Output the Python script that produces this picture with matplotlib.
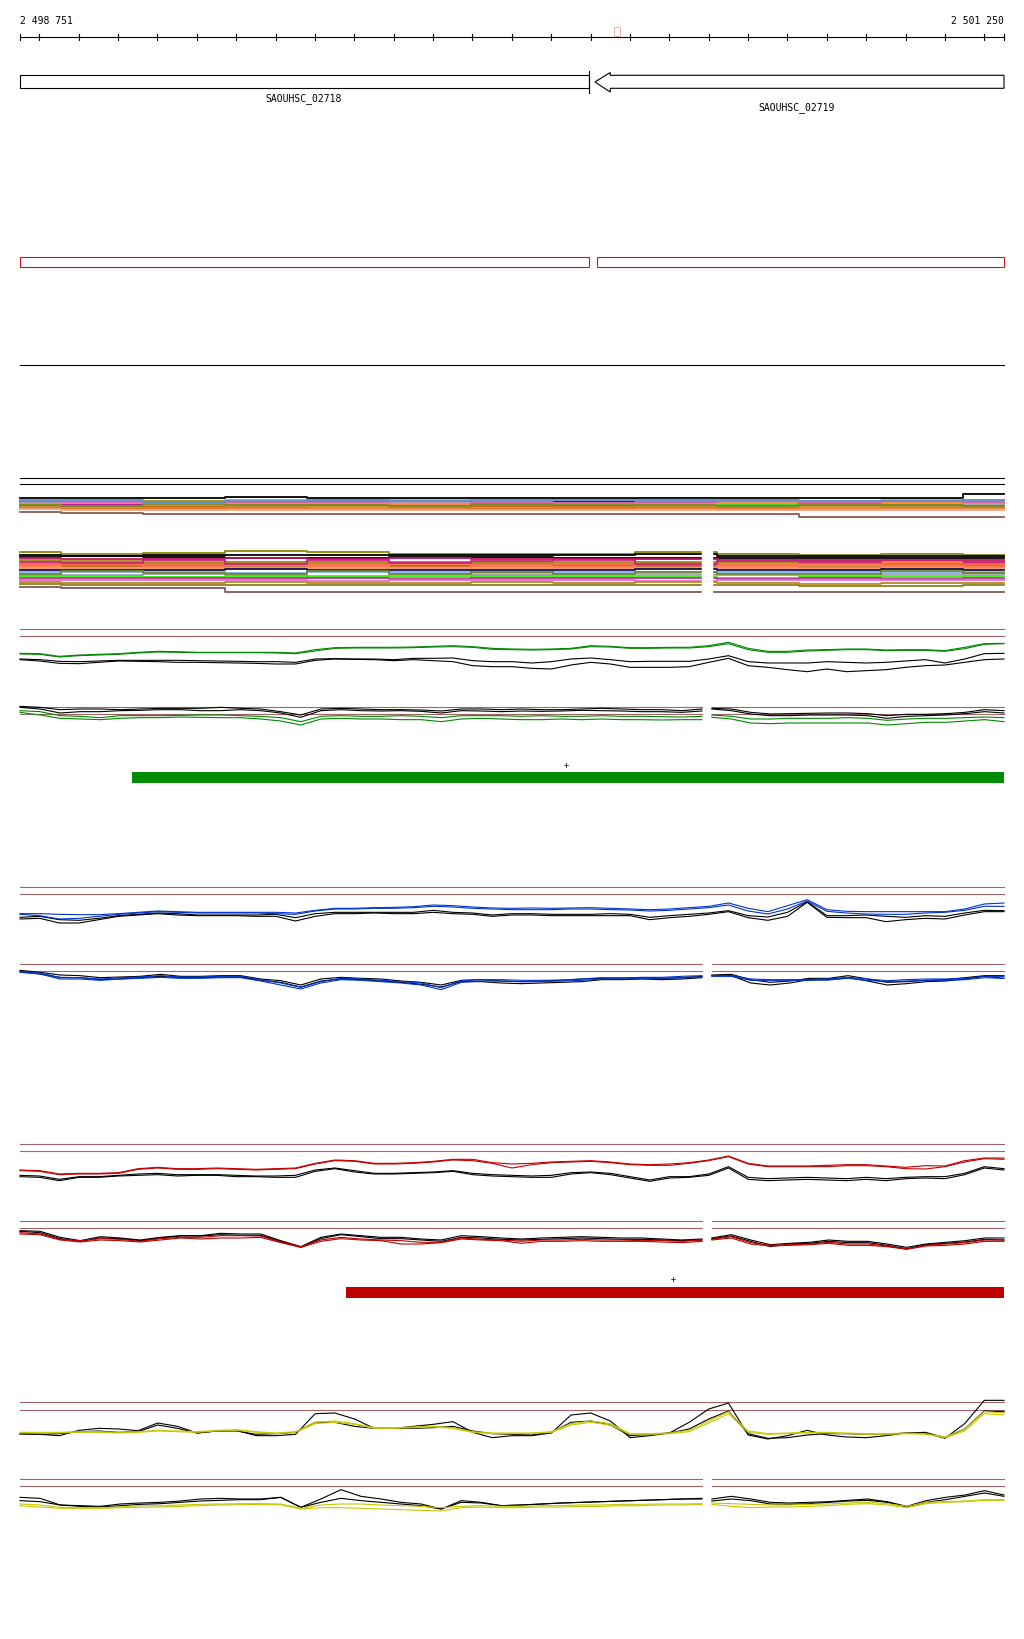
import numpy as np
import matplotlib
matplotlib.use("Agg")
import matplotlib.pyplot as plt
from matplotlib.patches import Rectangle, Polygon

W, H = 1024, 1640
START, END = 2498751, 2501250
PX_PER_BP = 984 / (END - START)
X0 = START - 20 / PX_PER_BP
X1 = END + 20 / PX_PER_BP

# sample positions of the graph tracks
POS = np.linspace(START, END, 51)
LEFT_END, RIGHT_START = 2500483, 2500508
LEFT_POS = np.linspace(START, LEFT_END, 35)
RIGHT_POS = np.linspace(RIGHT_START, END, 16)
DENSE_POS = np.linspace(START, END, 13)

# genes / features
GENES = ["SAOUHSC_02718", "SAOUHSC_02719"]
GENE_LEFT = (2498751, 2500196)
GENE_RIGHT = (2500211, 2500250, 2501250)   # tip, head base, end
CDS_BOXES = [(2498751, 2500196), (2500216, 2501250)]
GREEN_BAR = (2499035, 2501250)
RED_BAR = (2499579, 2501250)
TICKS = np.arange(2498800, 2501201, 100)

# --- green track (full) ---
GREEN_FULL_THR = [149, 128]
GREEN_FULL_G1 = [77, 76, 68, 72, 74, 76, 80, 83, 82, 80, 80, 80, 80, 80, 78, 88, 94, 95, 95, 95, 96, 98, 100, 97, 92,
                 90, 89, 90, 92, 100, 98, 94, 94, 95, 95, 100, 110, 92, 83, 83, 87, 88, 90, 90, 87, 88, 88, 85, 95, 106, 107]
GREEN_FULL_G2 = [75, 74, 66, 70, 72, 74, 78, 81, 80, 79, 79, 79, 79, 78, 76, 84, 92, 93, 93, 93, 94, 96, 97, 95, 89,
                 88, 87, 88, 90, 97, 96, 92, 92, 93, 93, 97, 106, 88, 80, 80, 84, 86, 88, 88, 85, 86, 86, 83, 91, 104, 106]
GREEN_FULL_K1 = [60, 58, 53, 52, 54, 56, 56, 56, 56, 55, 54, 53, 52, 52, 50, 60, 61, 60, 60, 58, 62, 62, 63, 55, 52,
                 52, 48, 52, 60, 63, 58, 52, 53, 53, 53, 60, 70, 52, 48, 48, 48, 52, 50, 48, 50, 54, 58, 48, 60, 76, 77]
GREEN_FULL_K2 = [58, 54, 47, 46, 50, 54, 53, 52, 50, 50, 49, 48, 47, 45, 45, 56, 60, 59, 58, 55, 58, 55, 52, 40, 37,
                 37, 32, 30, 42, 50, 45, 35, 35, 35, 37, 50, 62, 40, 35, 28, 22, 30, 22, 25, 28, 35, 40, 42, 50, 58, 60]

# --- green track (split) ---
GREEN_SPLIT_THR = [65, 44]
GREEN_SPLIT_K1_L = [68, 65, 58, 60, 60, 58, 60, 62, 62, 62, 65, 62, 60, 52, 42, 60, 62, 60, 58, 58, 57, 54, 60, 60, 58,
                    60, 58, 58, 60, 62, 60, 58, 58, 55, 60]
GREEN_SPLIT_K2_L = [65, 60, 48, 52, 52, 55, 56, 58, 58, 55, 55, 58, 55, 48, 35, 55, 58, 55, 54, 55, 53, 48, 55, 54, 52,
                    54, 53, 54, 56, 55, 54, 52, 52, 50, 54]
GREEN_SPLIT_G1_L = [55, 52, 40, 38, 34, 40, 40, 40, 41, 42, 42, 40, 38, 34, 22, 38, 40, 38, 38, 40, 38, 34, 40, 40, 40,
                    38, 40, 38, 38, 40, 38, 38, 37, 36, 38]
GREEN_SPLIT_G2_L = [50, 42, 32, 30, 28, 32, 34, 34, 36, 35, 34, 34, 30, 24, 12, 30, 32, 30, 30, 28, 28, 22, 30, 32, 30,
                    28, 28, 30, 28, 30, 28, 28, 27, 28, 28]
GREEN_SPLIT_K1_R = [62, 60, 50, 45, 46, 47, 48, 48, 46, 40, 44, 44, 46, 50, 58, 55]
GREEN_SPLIT_K2_R = [60, 55, 45, 40, 40, 42, 42, 42, 40, 32, 38, 40, 42, 46, 52, 48]
GREEN_SPLIT_G1_R = [42, 38, 30, 30, 32, 32, 32, 34, 32, 26, 30, 32, 32, 34, 36, 34]
GREEN_SPLIT_G2_R = [35, 30, 18, 16, 18, 18, 18, 18, 18, 12, 16, 20, 20, 24, 28, 22]

# --- blue track (full) ---
BLUE_FULL_THR = [125, 104]
BLUE_FULL_B1 = [46, 46, 44, 43, 43, 46, 50, 54, 52, 50, 50, 50, 50, 50, 48, 56, 62, 62, 64, 65, 67, 72, 70, 66, 63,
                62, 63, 62, 63, 64, 62, 60, 58, 60, 64, 68, 78, 62, 52, 70, 88, 58, 53, 52, 52, 52, 52, 52, 60, 75, 78]
BLUE_FULL_B2 = [44, 40, 30, 32, 38, 44, 48, 52, 50, 48, 48, 48, 48, 46, 44, 54, 60, 60, 62, 62, 64, 68, 66, 62, 60,
                58, 58, 58, 60, 60, 58, 57, 54, 56, 60, 64, 72, 54, 45, 60, 84, 53, 48, 45, 44, 44, 48, 50, 56, 68, 68]
BLUE_FULL_K1 = [35, 38, 28, 26, 32, 40, 44, 48, 46, 42, 42, 42, 42, 44, 34, 46, 50, 50, 50, 50, 50, 56, 50, 48, 42,
                46, 46, 44, 44, 44, 46, 44, 35, 40, 44, 48, 55, 40, 36, 50, 82, 40, 40, 42, 38, 35, 40, 38, 48, 56, 55]
BLUE_FULL_K2 = [30, 32, 18, 18, 28, 38, 42, 46, 42, 40, 40, 40, 38, 38, 24, 38, 46, 46, 48, 46, 46, 50, 46, 44, 38,
                42, 42, 40, 40, 40, 40, 40, 28, 34, 38, 44, 52, 34, 26, 38, 80, 35, 34, 34, 22, 28, 32, 30, 42, 52, 52]

# --- blue track (split) ---
BLUE_SPLIT_THR = [104, 83]
BLUE_SPLIT_B1_L = [82, 78, 64, 64, 60, 64, 66, 70, 66, 66, 68, 68, 58, 48, 35, 52, 62, 60, 56, 52, 48, 34, 55, 58, 58,
                   56, 56, 57, 60, 64, 63, 65, 65, 68, 70]
BLUE_SPLIT_B2_L = [80, 75, 60, 60, 56, 60, 62, 65, 62, 62, 64, 64, 54, 42, 30, 48, 58, 56, 52, 48, 42, 28, 50, 54, 54,
                   52, 52, 54, 56, 60, 60, 62, 62, 64, 66]
BLUE_SPLIT_K1_L = [86, 80, 72, 70, 64, 66, 68, 74, 68, 68, 70, 70, 60, 55, 42, 60, 65, 62, 60, 54, 50, 42, 56, 58, 54,
                   52, 54, 56, 60, 62, 63, 64, 62, 64, 68]
BLUE_SPLIT_K2_L = [82, 75, 65, 64, 58, 60, 64, 68, 64, 64, 66, 66, 56, 50, 36, 54, 60, 58, 54, 50, 44, 36, 52, 52, 48,
                   46, 48, 50, 52, 58, 58, 60, 58, 60, 64]
BLUE_SPLIT_B1_R = [70, 70, 60, 58, 58, 58, 60, 65, 60, 55, 58, 60, 60, 62, 68, 68]
BLUE_SPLIT_B2_R = [68, 68, 56, 56, 56, 56, 57, 62, 56, 52, 54, 56, 56, 58, 64, 62]
BLUE_SPLIT_K1_R = [72, 74, 58, 50, 54, 62, 62, 70, 60, 50, 52, 56, 58, 64, 70, 70]
BLUE_SPLIT_K2_R = [70, 70, 48, 42, 48, 58, 58, 64, 54, 42, 46, 52, 54, 60, 68, 62]

# --- red track (full) ---
RED_FULL_THR = [134, 113]
RED_FULL_R1 = [57, 55, 45, 47, 47, 49, 61, 65, 61, 61, 63, 61, 59, 61, 63, 77, 87, 85, 77, 77, 79, 83, 89, 89, 79,
               75, 77, 81, 83, 85, 81, 75, 73, 75, 79, 87, 99, 77, 69, 69, 69, 71, 73, 73, 69, 65, 70, 69, 85, 93, 93]
RED_FULL_R2 = [55, 53, 43, 45, 45, 47, 59, 63, 59, 59, 61, 59, 57, 59, 61, 75, 85, 83, 75, 75, 77, 81, 87, 85, 77,
               63, 73, 79, 81, 83, 79, 73, 71, 71, 77, 85, 97, 75, 67, 67, 67, 67, 70, 70, 67, 61, 60, 67, 81, 91, 89]
RED_FULL_K1 = [41, 39, 29, 37, 37, 41, 45, 47, 43, 43, 43, 41, 39, 39, 41, 57, 63, 55, 47, 47, 49, 51, 55, 47, 43,
               41, 39, 41, 49, 51, 47, 37, 27, 37, 37, 45, 67, 35, 31, 33, 35, 33, 31, 35, 31, 35, 37, 37, 47, 67, 61]
RED_FULL_K2 = [37, 35, 25, 35, 35, 39, 41, 43, 39, 41, 41, 37, 37, 35, 35, 53, 61, 51, 45, 45, 47, 49, 53, 43, 39,
               37, 35, 35, 45, 49, 43, 33, 23, 33, 35, 41, 63, 29, 25, 27, 29, 27, 25, 29, 25, 31, 33, 31, 43, 63, 57]

# --- red track (split) ---
RED_SPLIT_THR = [113, 92]
RED_SPLIT_K1_L = [85, 83, 65, 55, 67, 63, 57, 65, 70, 70, 77, 75, 75, 55, 37, 65, 75, 70, 65, 65, 60, 57, 70, 67, 63,
                  60, 63, 65, 67, 65, 63, 63, 60, 57, 60]
RED_SPLIT_K2_L = [83, 79, 61, 53, 63, 61, 55, 63, 69, 69, 73, 71, 71, 53, 35, 61, 73, 67, 61, 61, 57, 53, 65, 63, 59,
                  57, 59, 61, 63, 61, 59, 59, 57, 55, 57]
RED_SPLIT_R1_L = [79, 75, 59, 55, 61, 59, 53, 61, 65, 65, 70, 70, 69, 51, 37, 57, 65, 60, 57, 55, 50, 50, 63, 59, 57,
                  53, 57, 57, 59, 57, 57, 55, 55, 53, 57]
RED_SPLIT_R2_L = [75, 73, 57, 51, 57, 55, 51, 57, 63, 60, 63, 63, 65, 49, 35, 53, 61, 57, 55, 45, 45, 49, 60, 57, 55,
                  47, 53, 53, 55, 53, 53, 53, 51, 49, 53]
RED_SPLIT_K1_R = [63, 73, 57, 43, 47, 50, 57, 53, 53, 45, 35, 45, 50, 55, 63, 63]
RED_SPLIT_K2_R = [61, 69, 53, 37, 45, 47, 53, 49, 49, 41, 31, 43, 47, 51, 59, 57]
RED_SPLIT_R1_R = [59, 67, 49, 41, 43, 45, 50, 45, 45, 39, 30, 41, 45, 49, 57, 57]
RED_SPLIT_R2_R = [57, 63, 45, 39, 41, 43, 47, 41, 41, 37, 29, 39, 41, 45, 53, 53]

# --- yellow track (full) ---
YELLOW_FULL_THR = [125, 103]
YELLOW_FULL_K1 = [30, 29, 25, 41, 47, 45, 40, 63, 53, 33, 39, 41, 25, 25, 29, 91, 93, 75, 47, 47, 53, 59, 67, 35, 19,
                  25, 25, 33, 87, 93, 69, 19, 25, 33, 65, 105, 123, 27, 15, 25, 41, 27, 21, 19, 25, 33, 33, 17, 61, 131, 131]
YELLOW_FULL_K2 = [31, 29, 31, 37, 39, 35, 37, 57, 47, 33, 39, 39, 29, 31, 35, 65, 65, 53, 47, 47, 47, 49, 53, 39, 31,
                  29, 27, 35, 65, 69, 57, 25, 29, 33, 45, 75, 99, 31, 17, 19, 27, 31, 31, 29, 29, 33, 35, 19, 45, 99, 97]
YELLOW_FULL_Y1 = [35, 35, 35, 37, 37, 35, 37, 41, 39, 37, 41, 43, 37, 33, 37, 65, 69, 61, 49, 49, 51, 53, 49, 37, 33,
                  33, 33, 37, 61, 69, 61, 31, 31, 33, 41, 69, 97, 39, 31, 33, 35, 35, 33, 31, 31, 33, 31, 21, 45, 97, 93]
YELLOW_FULL_Y2 = [33, 33, 33, 35, 35, 33, 35, 39, 37, 35, 39, 41, 35, 31, 35, 61, 65, 59, 47, 47, 49, 51, 47, 35, 31,
                  31, 31, 35, 57, 65, 57, 29, 29, 31, 37, 63, 91, 35, 29, 31, 33, 33, 31, 29, 29, 31, 29, 19, 39, 91, 87]

# --- yellow track (split) ---
YELLOW_SPLIT_THR = [120, 98]
YELLOW_SPLIT_K1_L = [65, 62, 42, 40, 38, 45, 48, 50, 54, 60, 62, 60, 60, 65, 35, 60, 88, 68, 60, 50, 45, 30, 55, 50, 40,
                     42, 45, 48, 50, 52, 54, 56, 58, 60, 62]
YELLOW_SPLIT_K2_L = [55, 52, 42, 38, 36, 40, 44, 46, 50, 54, 56, 58, 58, 65, 35, 50, 62, 55, 50, 45, 40, 30, 50, 48, 40,
                     42, 45, 48, 50, 52, 54, 56, 58, 60, 60]
YELLOW_SPLIT_Y1_L = [45, 42, 35, 34, 34, 36, 40, 40, 42, 44, 45, 46, 46, 45, 32, 42, 45, 45, 42, 40, 38, 34, 38, 40, 38,
                     38, 40, 40, 42, 42, 44, 44, 45, 45, 46]
YELLOW_SPLIT_Y2_L = [40, 36, 32, 32, 32, 34, 35, 36, 38, 40, 42, 43, 44, 42, 30, 34, 34, 32, 30, 28, 26, 24, 34, 36, 34,
                     34, 36, 36, 38, 38, 40, 40, 42, 42, 44]
YELLOW_SPLIT_K1_R = [60, 68, 60, 50, 48, 50, 52, 56, 60, 52, 38, 55, 65, 72, 85, 72]
YELLOW_SPLIT_K2_R = [54, 60, 55, 45, 44, 46, 50, 54, 56, 50, 36, 50, 58, 68, 78, 68]
YELLOW_SPLIT_Y1_R = [48, 46, 44, 42, 42, 44, 45, 48, 50, 46, 38, 50, 52, 54, 58, 58]
YELLOW_SPLIT_Y2_R = [44, 38, 34, 36, 36, 38, 40, 44, 46, 42, 34, 46, 50, 52, 56, 56]

# --- dense multi-sample tracks ---
DENSE_A_COLORS = ['#000000', '#87aee8', '#d02050', '#9a9a10', '#f05030', '#e8906a', '#1a1a60', '#c0209a',
                  '#40e020', '#d0641e', '#c89030', '#e07830', '#f0a080', '#8a5a50', '#b0a0b0', '#ff8c40',
                  '#7a8a20', '#e060b0', '#5a90d0']
DENSE_A_VALUES = [
    [62, 62, 62, 65, 62, 62, 62, 62, 62, 62, 62, 62, 74],
    [52, 54, 54, 56, 56, 56, 55, 54, 54, 52, 55, 56, 56],
    [50, 48, 50, 52, 48, 50, 50, 52, 50, 48, 50, 52, 50],
    [52, 50, 53, 55, 54, 52, 52, 50, 52, 50, 52, 50, 54],
    [48, 46, 45, 46, 46, 48, 48, 46, 48, 46, 48, 46, 48],
    [45, 44, 43, 44, 42, 44, 44, 42, 44, 43, 42, 44, 44],
    [50, 46, 47, 48, 50, 46, 48, 50, 48, 47, 48, 46, 47],
    [44, 42, 42, 44, 44, 42, 42, 44, 42, 44, 42, 44, 45],
    [40, 36, 40, 38, 40, 38, 38, 40, 38, 42, 40, 40, 42],
    [38, 38, 36, 36, 38, 36, 38, 36, 36, 36, 38, 38, 38],
    [36, 34, 34, 35, 36, 34, 34, 34, 36, 34, 36, 36, 36],
    [33, 30, 30, 32, 30, 30, 30, 30, 32, 30, 30, 32, 32],
    [30, 27, 26, 28, 28, 26, 26, 28, 28, 26, 28, 28, 28],
    [22, 18, 16, 16, 16, 15, 15, 15, 15, 14, 6, 6, 6],
    [47, 47, 47, 45, 47, 47, 46, 46, 46, 48, 48, 46, 46],
    [46, 49, 44, 47, 45, 45, 47, 48, 45, 49, 45, 47, 49],
    [42, 40, 45, 41, 43, 40, 44, 41, 43, 40, 44, 42, 40],
    [54, 51, 48, 50, 52, 53, 50, 48, 51, 54, 50, 53, 52],
    [56, 56, 52, 53, 58, 54, 57, 56, 57, 56, 53, 54, 58],
]
DENSE_B_COLORS = ['#8a8a00', '#000000', '#000000', '#c01060', '#e07820', '#a09020', '#ff5a3c', '#c86414',
                  '#f08868', '#101050', '#80b0ec', '#a8a0b8', '#38e810', '#c030a0', '#e070c0', '#b88828',
                  '#908020', '#805858', '#ff7f50', '#6a8a20', '#d02080']
DENSE_B_VALUES = [
    [130, 124, 126, 132, 128, 124, 124, 122, 130, 122, 120, 122, 120],
    [120, 118, 120, 120, 120, 120, 121, 120, 122, 118, 118, 118, 118],
    [114, 116, 114, 112, 112, 113, 114, 112, 112, 110, 110, 110, 110],
    [110, 108, 108, 110, 108, 110, 109, 108, 108, 106, 104, 106, 106],
    [102, 100, 100, 98, 100, 100, 98, 100, 100, 96, 98, 98, 98],
    [104, 102, 96, 100, 98, 100, 96, 96, 100, 98, 96, 94, 96],
    [92, 90, 92, 94, 92, 90, 92, 90, 90, 90, 92, 90, 92],
    [88, 86, 88, 86, 88, 86, 86, 88, 86, 86, 84, 86, 86],
    [82, 80, 82, 80, 82, 80, 82, 80, 82, 82, 80, 80, 80],
    [76, 74, 76, 78, 74, 74, 76, 76, 78, 76, 74, 78, 76],
    [70, 68, 68, 66, 68, 68, 66, 68, 66, 68, 68, 66, 68],
    [60, 60, 62, 60, 58, 60, 60, 60, 60, 60, 58, 60, 62],
    [56, 56, 54, 56, 54, 54, 56, 54, 54, 52, 54, 54, 56],
    [50, 52, 50, 50, 50, 48, 50, 50, 50, 48, 50, 48, 50],
    [44, 44, 46, 44, 42, 44, 44, 44, 42, 44, 44, 44, 44],
    [38, 36, 36, 38, 36, 36, 38, 36, 38, 36, 34, 36, 36],
    [34, 30, 30, 30, 30, 30, 30, 30, 30, 30, 28, 28, 30],
    [24, 22, 22, 10, 10, 10, 10, 10, 10, 10, 10, 10, 10],
    [86, 92, 84, 90, 86, 94, 88, 84, 92, 88, 90, 86, 84],
    [64, 72, 66, 62, 72, 64, 70, 62, 70, 64, 62, 72, 66],
    [100, 96, 104, 94, 104, 96, 102, 106, 94, 102, 100, 104, 100],
]

GREEN = '#008800'
BLUE = '#0033cc'
RED = '#c00000'
YELLOW = '#c8c800'
THR_COLOR = '#a06666'
LW = 0.8
DENSE_LW = 1.3
MONO = 'DejaVu Sans Mono'

fig = plt.figure(figsize=(W / 100, H / 100), dpi=100)
fig.patch.set_facecolor('white')

ax = fig.add_axes([0, 0, 1, 1])
ax.set_xlim(X0, X1)
ax.set_ylim(H, 0)
ax.axis('off')


def track(top, bottom, ymax):
    t = fig.add_axes([0, 1 - bottom / H, 1, (bottom - top) / H])
    t.set_xlim(X0, X1)
    t.set_ylim(0, ymax)
    t.axis('off')
    return t


# Ruler
ax.plot([START, END], [38, 38], color='black', lw=LW)
for x in list(TICKS) + [START, END]:
    ax.plot([x, x], [35, 41], color='black', lw=LW)
ax.text(START, 21.5, f"{START:,}".replace(',', ' '), family=MONO, fontsize=7, ha='left', va='center')
ax.text(END, 21.5, f"{END:,}".replace(',', ' '), family=MONO, fontsize=7, ha='right', va='center')
ax.add_patch(Rectangle((2500259, 28), 16, 9, fill=False, edgecolor='#f0b0b0', lw=0.7))

# Genes
ax.add_patch(Rectangle((GENE_LEFT[0], 76.3), GENE_LEFT[1] - GENE_LEFT[0], 13,
                       fill=False, edgecolor='black', lw=LW))
ax.plot([GENE_LEFT[1], GENE_LEFT[1]], [71.5, 93.5], color='black', lw=LW)
tip, head, gend = GENE_RIGHT
ax.add_patch(Polygon([(tip, 83), (head, 73.5), (head, 76.3), (gend, 76.3), (gend, 89.3),
                      (head, 89.3), (head, 93)], closed=True, fill=False, edgecolor='black', lw=LW))
ax.text(2499472, 98.5, GENES[0], family=MONO, fontsize=7, ha='center', va='center')
ax.text(2500724, 107.5, GENES[1], family=MONO, fontsize=7, ha='center', va='center')

# CDS outline boxes
for s, e in CDS_BOXES:
    ax.add_patch(Rectangle((s, 257.5), e - s, 10.5, fill=False, edgecolor='#e01010', lw=LW))

# Separator lines
ax.plot([START, END], [366, 366], color='black', lw=LW)
ax.plot([START, END], [478.5, 478.5], color='black', lw=LW)
ax.plot([START, END], [484.5, 484.5], color='black', lw=LW)

# Dense track A (full width)
ta = track(490, 520, 90)
for c, v in zip(DENSE_A_COLORS, DENSE_A_VALUES):
    ta.plot(DENSE_POS, v, color=c, lw=DENSE_LW, drawstyle='steps-mid')

# Dense track B (split)
tb = track(545, 596, 153)
for c, v in zip(DENSE_B_COLORS, DENSE_B_VALUES):
    tb.plot(DENSE_POS, v, color=c, lw=DENSE_LW, drawstyle='steps-mid')
tb.axvspan(LEFT_END, RIGHT_START, color='white', zorder=5)


def full_track(top, bottom, ymax, thr, lines):
    t = track(top, bottom, ymax)
    for y in thr:
        t.plot([START, END], [y, y], color=THR_COLOR, lw=LW)
    for vals, c in lines:
        t.plot(POS, vals, color=c, lw=LW)
    return t


def split_track(top, bottom, ymax, thr, left_lines, right_lines):
    t = track(top, bottom, ymax)
    for y in thr:
        t.plot([START, LEFT_END], [y, y], color=THR_COLOR, lw=LW)
        t.plot([RIGHT_START, END], [y, y], color=THR_COLOR, lw=LW)
    for vals, c in left_lines:
        t.plot(LEFT_POS, vals, color=c, lw=LW)
    for vals, c in right_lines:
        t.plot(RIGHT_POS, vals, color=c, lw=LW)
    return t


full_track(620, 680, 180, GREEN_FULL_THR,
           [(GREEN_FULL_K1, 'black'), (GREEN_FULL_K2, 'black'),
            (GREEN_FULL_G1, GREEN), (GREEN_FULL_G2, GREEN)])
split_track(690, 730, 120, GREEN_SPLIT_THR,
            [(GREEN_SPLIT_K1_L, 'black'), (GREEN_SPLIT_K2_L, 'black'),
             (GREEN_SPLIT_G1_L, GREEN), (GREEN_SPLIT_G2_L, GREEN)],
            [(GREEN_SPLIT_K1_R, 'black'), (GREEN_SPLIT_K2_R, 'black'),
             (GREEN_SPLIT_G1_R, GREEN), (GREEN_SPLIT_G2_R, GREEN)])

ax.text(2500138, 766, '+', family=MONO, fontsize=6, ha='center', va='center')
ax.add_patch(Rectangle((GREEN_BAR[0], 773), GREEN_BAR[1] - GREEN_BAR[0], 11,
                       facecolor='#008c00', edgecolor='none'))

full_track(880, 930, 150, BLUE_FULL_THR,
           [(BLUE_FULL_K1, 'black'), (BLUE_FULL_K2, 'black'),
            (BLUE_FULL_B1, BLUE), (BLUE_FULL_B2, BLUE)])
split_track(950, 1000, 150, BLUE_SPLIT_THR,
            [(BLUE_SPLIT_K1_L, 'black'), (BLUE_SPLIT_K2_L, 'black'),
             (BLUE_SPLIT_B1_L, BLUE), (BLUE_SPLIT_B2_L, BLUE)],
            [(BLUE_SPLIT_K1_R, 'black'), (BLUE_SPLIT_K2_R, 'black'),
             (BLUE_SPLIT_B1_R, BLUE), (BLUE_SPLIT_B2_R, BLUE)])

full_track(1135, 1190, 165, RED_FULL_THR,
           [(RED_FULL_K1, 'black'), (RED_FULL_K2, 'black'),
            (RED_FULL_R1, RED), (RED_FULL_R2, RED)])
split_track(1210, 1260, 150, RED_SPLIT_THR,
            [(RED_SPLIT_K1_L, 'black'), (RED_SPLIT_K2_L, 'black'),
             (RED_SPLIT_R1_L, RED), (RED_SPLIT_R2_L, RED)],
            [(RED_SPLIT_K1_R, 'black'), (RED_SPLIT_K2_R, 'black'),
             (RED_SPLIT_R1_R, RED), (RED_SPLIT_R2_R, RED)])

ax.text(2500409, 1280, '+', family=MONO, fontsize=6, ha='center', va='center')
ax.add_patch(Rectangle((RED_BAR[0], 1288), RED_BAR[1] - RED_BAR[0], 11,
                       facecolor='#bf0000', edgecolor='none'))

full_track(1390, 1445, 165, YELLOW_FULL_THR,
           [(YELLOW_FULL_K1, 'black'), (YELLOW_FULL_K2, 'black'),
            (YELLOW_FULL_Y1, YELLOW), (YELLOW_FULL_Y2, YELLOW)])
split_track(1470, 1520, 150, YELLOW_SPLIT_THR,
            [(YELLOW_SPLIT_K1_L, 'black'), (YELLOW_SPLIT_K2_L, 'black'),
             (YELLOW_SPLIT_Y1_L, YELLOW), (YELLOW_SPLIT_Y2_L, YELLOW)],
            [(YELLOW_SPLIT_K1_R, 'black'), (YELLOW_SPLIT_K2_R, 'black'),
             (YELLOW_SPLIT_Y1_R, YELLOW), (YELLOW_SPLIT_Y2_R, YELLOW)])

fig.savefig('out.png', dpi=100, facecolor='white')
